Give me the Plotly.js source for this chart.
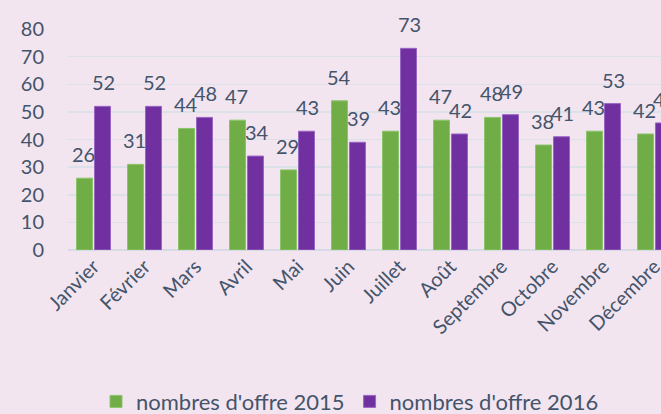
<!DOCTYPE html>
<html><head><meta charset="utf-8">
<script src="https://cdn.plot.ly/plotly-3.0.1.min.js"></script>
<style>html,body{margin:0;padding:0;overflow:hidden;background:#F2E5F0;}#chart{width:700px;height:414px;}</style>
</head><body><div id="chart"></div>
<script>
const months = ["Janvier","Février","Mars","Avril","Mai","Juin","Juillet","Août","Septembre","Octobre","Novembre","Décembre"];
const offres2015 = [26,31,44,47,29,54,43,47,48,38,43,42];
const offres2016 = [52,52,48,34,43,39,73,42,49,41,53,46];
const name2015 = "nombres d'offre 2015";
const name2016 = "nombres d'offre 2016";
const yTicks = [0,10,20,30,40,50,60,70,80];

const txtColor = "#44546A";
const fontFam = "Lato, 'Open Sans', sans-serif";

const traces = [
  {type:"bar", x:months, y:offres2015, name:name2015,
   marker:{color:"#70AD47", line:{color:"#8cc46a", width:1}}, hoverinfo:"skip"},
  {type:"bar", x:months, y:offres2016, name:name2016,
   marker:{color:"#7030A0", line:{color:"#9a66c4", width:1}}, hoverinfo:"skip"}
];

const annotations = [];
months.forEach((m,i)=>{
  annotations.push({x:m, y:offres2015[i], text:String(offres2015[i]), showarrow:false,
    xref:"x", yref:"y", xanchor:"center", yanchor:"bottom", xshift:-10, yshift:10,
    font:{family:fontFam, size:20, color:txtColor}});
  annotations.push({x:m, y:offres2016[i], text:String(offres2016[i]), showarrow:false,
    xref:"x", yref:"y", xanchor:"center", yanchor:"bottom", xshift:10, yshift:10,
    font:{family:fontFam, size:20, color:txtColor}});
});

const layout = {
  width:700, height:414,
  margin:{l:68, r:20, t:29, b:164, autoexpand:false},
  paper_bgcolor:"#F2E5F0", plot_bgcolor:"#F2E5F0",
  barmode:"group", bargap:0.294, bargroupgap:0.11,
  font:{family:fontFam, size:20, color:txtColor},
  showlegend:true,
  legend:{orientation:"h", xref:"container", yref:"container", x:0.5, xanchor:"center", y:0.03, yanchor:"middle",
    font:{family:fontFam, size:22, color:txtColor}, itemwidth:30, bgcolor:"rgba(0,0,0,0)"},
  xaxis:{type:"category", tickangle:-45, showgrid:false, showline:false, ticks:"", automargin:false,
    tickfont:{family:fontFam, size:20, color:txtColor}, zeroline:false, fixedrange:true},
  yaxis:{range:[0,80], tickvals:yTicks, ticktext:yTicks.map(String), showgrid:true, gridcolor:"#DCE0E8", gridwidth:1.5,
    zeroline:true, zerolinecolor:"#D5DAE3", zerolinewidth:2, showline:false, ticks:"", automargin:false,
    ticklabelstandoff:23,
    tickfont:{family:fontFam, size:20, color:txtColor}, fixedrange:true},
  annotations:annotations
};
Plotly.newPlot("chart", traces, layout, {displayModeBar:false, staticPlot:true});
</script></body></html>
